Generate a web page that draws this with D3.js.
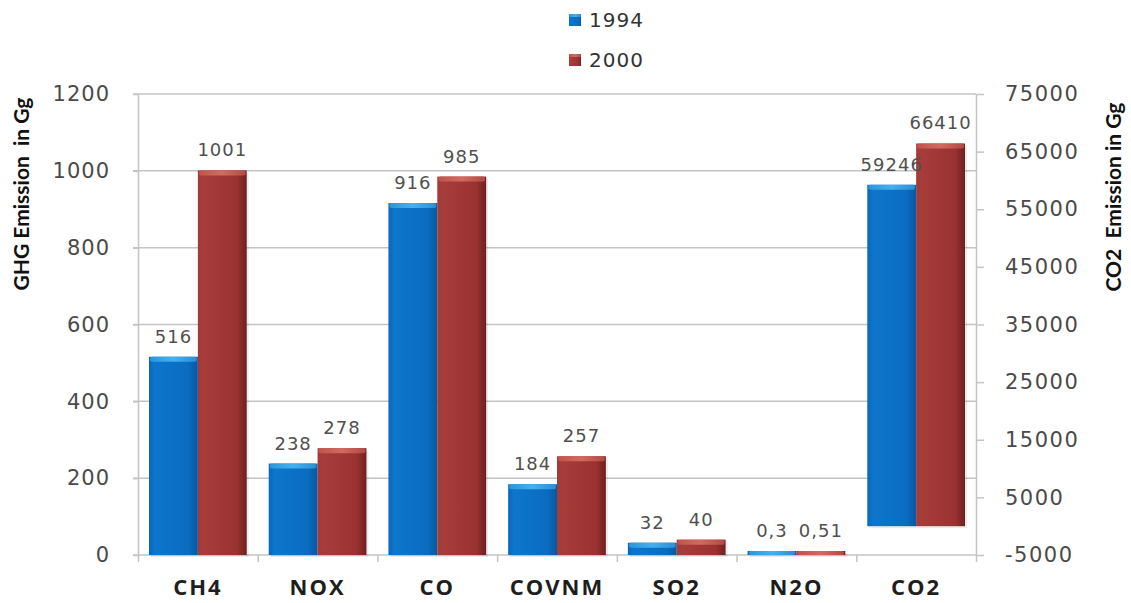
<!DOCTYPE html>
<html>
<head>
<meta charset="utf-8">
<script src="https://cdn.jsdelivr.net/npm/d3@7"></script>
<style>
  html, body { margin: 0; padding: 0; background: #fff; }
  svg { display: block; }
  text.title { white-space: pre; }
</style>
</head>
<body>
<svg id="chart" width="1131" height="603"></svg>
<script>
// ---- data ----
const categories = ["CH4", "NOX", "CO", "COVNM", "SO2", "N2O", "CO2"];
const seriesNames = ["1994", "2000"];
const values1994 = [516, 238, 916, 184, 32, 0.3, 59246];
const values2000 = [1001, 278, 985, 257, 40, 0.51, 66410];
const secondaryCategory = "CO2"; // plotted on right axis
const leftTicks = [0, 200, 400, 600, 800, 1000, 1200];
const rightTicks = [-5000, 5000, 15000, 25000, 35000, 45000, 55000, 65000, 75000];
const leftTitle = "GHG Emission  in Gg";
const rightTitle = "CO2  Emission in Gg";

// ---- layout ----
const plot = { left: 138, right: 976, top: 94, bottom: 555 };

const svg = d3.select("#chart");
const defs = svg.append("defs");

function grad(id, stops) {
  const g = defs.append("linearGradient").attr("id", id)
    .attr("x1", "0%").attr("x2", "100%").attr("y1", "0%").attr("y2", "0%");
  stops.forEach(([o, c]) => g.append("stop").attr("offset", o).attr("stop-color", c));
}
grad("g1994", [["0%", "#0a66b8"], ["12%", "#0d76cc"], ["80%", "#0b6cc1"], ["100%", "#07589f"]]);
grad("g2000", [["0%", "#a13a38"], ["12%", "#a63d3b"], ["80%", "#9a3231"], ["100%", "#6d2020"]]);
grad("c1994", [["0%", "#2c96dc"], ["50%", "#45b0ee"], ["100%", "#2a8ed4"]]);
grad("c2000", [["0%", "#c0544c"], ["50%", "#d36a60"], ["100%", "#b24a44"]]);

const x0 = d3.scaleBand().domain(categories).range([plot.left, plot.right]).padding(0);
const x1 = d3.scaleBand().domain(seriesNames)
  .range([11, x0.bandwidth() - 11]).padding(0);
const yL = d3.scaleLinear().domain([0, 1200]).range([plot.bottom, plot.top]);
const yR = d3.scaleLinear().domain([-5000, 75000]).range([plot.bottom, plot.top]);

const numFont = "'DejaVu Sans', Verdana, sans-serif";
const boldFont = "'Open Sans', Lato, sans-serif";
const titleFont = "Lato, 'Open Sans', sans-serif";
const plainNum = d => String(d);

// gridlines
svg.append("g")
  .selectAll("line").data(leftTicks.filter(d => d > 0)).join("line")
  .attr("x1", plot.left - 5).attr("x2", plot.right)
  .attr("y1", d => yL(d)).attr("y2", d => yL(d))
  .attr("stroke", "#c4c4c4").attr("stroke-width", 1.5);

// left axis
const gL = svg.append("g").attr("transform", `translate(${plot.left},0)`)
  .call(d3.axisLeft(yL).tickValues(leftTicks).tickFormat(plainNum)
    .tickSize(5).tickSizeOuter(0).tickPadding(23));
gL.select(".domain").attr("stroke", "#c4c4c4").attr("stroke-width", 1.5);
gL.selectAll(".tick line").attr("stroke", "#c4c4c4").attr("stroke-width", 1.5);
gL.selectAll("text").attr("font-family", numFont).attr("font-size", 21)
  .attr("fill", "#4a4a4a").style("letter-spacing", "1px");

// right axis
const gR = svg.append("g").attr("transform", `translate(${plot.right},0)`)
  .call(d3.axisRight(yR).tickValues(rightTicks).tickFormat(plainNum)
    .tickSize(8).tickSizeOuter(0).tickPadding(21));
gR.select(".domain").attr("stroke", "#c4c4c4").attr("stroke-width", 1.5);
gR.selectAll(".tick line").attr("stroke", "#c4c4c4").attr("stroke-width", 1.5);
gR.selectAll("text").attr("font-family", numFont).attr("font-size", 21)
  .attr("fill", "#4a4a4a").style("letter-spacing", "1.5px");

// bottom axis
const xTickScale = d3.scaleLinear().domain([0, categories.length]).range([plot.left, plot.right]);
const gB = svg.append("g").attr("transform", `translate(0,${plot.bottom})`)
  .call(d3.axisBottom(xTickScale).ticks(categories.length).tickSize(7).tickSizeOuter(0).tickFormat(""));
gB.select(".domain").attr("stroke", "#c4c4c4").attr("stroke-width", 1.5)
  .attr("d", `M${plot.left - 5},0H${plot.right}`);
gB.selectAll(".tick line").attr("stroke", "#c4c4c4").attr("stroke-width", 1.5);

const gC = svg.append("g").attr("transform", `translate(0,${plot.bottom})`)
  .call(d3.axisBottom(x0).tickSize(0).tickPadding(24));
gC.select(".domain").remove();
gC.selectAll("text").attr("font-family", boldFont).attr("font-weight", "bold")
  .attr("font-size", 22).attr("fill", "#1e1e1e").style("letter-spacing", "2px");

// bars
const rows = [];
categories.forEach((c, i) => {
  const scale = c === secondaryCategory ? yR : yL;
  [values1994[i], values2000[i]].forEach((v, j) => {
    rows.push({ cat: c, series: seriesNames[j], value: v, scale });
  });
});

const fmt = v => (Number.isInteger(v) ? String(v) : String(v).replace(".", ","));

const barG = svg.append("g");
rows.forEach(r => {
  const x = x0(r.cat) + x1(r.series);
  const w = x1.bandwidth();
  const base = r.scale(0);
  let top = r.scale(r.value);
  if (base - top < 4) top = base - 4;
  const g = barG.append("g");
  g.append("rect").attr("x", x + 2).attr("y", top + 2).attr("width", w).attr("height", base - top)
    .attr("fill", "#000").attr("opacity", 0.08);
  g.append("rect").attr("x", x).attr("y", top).attr("width", w).attr("height", base - top)
    .attr("fill", `url(#g${r.series})`);
  g.append("rect").attr("x", x + 1).attr("y", top).attr("width", w - 2)
    .attr("height", Math.min(5, base - top)).attr("rx", 2)
    .attr("fill", `url(#c${r.series})`);
  r.top = top; r.cx = x + w / 2;
});

// value labels
svg.append("g").selectAll("text").data(rows).join("text")
  .attr("x", d => d.cx).attr("y", d => d.top - 14)
  .attr("text-anchor", "middle")
  .attr("font-family", numFont).attr("font-size", 18)
  .attr("fill", "#505050").style("letter-spacing", "1px")
  .text(d => fmt(d.value));

// axis titles
svg.append("text").attr("class", "title")
  .attr("transform", `translate(29,194) rotate(-90)`)
  .attr("text-anchor", "middle")
  .attr("font-family", titleFont).attr("font-weight", "bold").attr("font-size", 21)
  .attr("fill", "#111").text(leftTitle);
svg.append("text").attr("class", "title")
  .attr("transform", `translate(1121,197) rotate(-90)`)
  .attr("text-anchor", "middle")
  .attr("font-family", titleFont).attr("font-weight", "bold").attr("font-size", 21)
  .attr("fill", "#111").text(rightTitle);

// legend
const leg = svg.append("g").attr("transform", "translate(569,14)");
seriesNames.forEach((s, i) => {
  const g = leg.append("g").attr("transform", `translate(0,${i * 40})`);
  g.append("rect").attr("width", 12).attr("height", 12).attr("fill", `url(#g${s})`);
  g.append("rect").attr("width", 12).attr("height", 3).attr("fill", `url(#c${s})`);
  g.append("text").attr("x", 20).attr("y", 6).attr("dy", "0.35em")
    .attr("font-family", numFont).attr("font-size", 20).attr("fill", "#333")
    .style("letter-spacing", "1px").text(s);
});
</script>
</body>
</html>
